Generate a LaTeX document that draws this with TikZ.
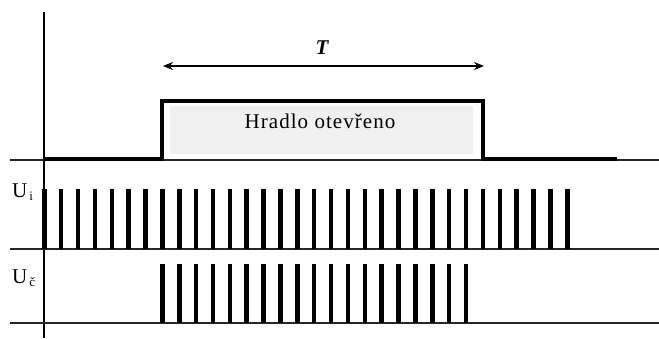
\documentclass[tikz,border=0pt]{standalone}
\usepackage{fontspec}
\setmainfont{Liberation Serif}
\usetikzlibrary{arrows.meta}
\tikzset{
  thin axis/.style={line width=1.3pt, black},
  base/.style={line width=1.6pt, black!85},
  gate/.style={line width=4.2pt, black, line join=miter},
  pulse/.style={line width=4.5pt, black},
  span/.style={line width=1.3pt, {Stealth[length=10pt,width=8pt]}-{Stealth[length=10pt,width=8pt]}},
  lbl/.style={inner sep=0pt, font=\fontsize{21}{21}\selectfont}
}
\newcommand{\subtxt}[1]{\raisebox{-3pt}{\fontsize{13}{13}\selectfont #1}}
\begin{document}
\begin{tikzpicture}[x=1pt,y=-1pt]
  \useasboundingbox (0,0) rectangle (659,338);

  % shaded interval while the gate is open
  \fill[black!6] (170,106) rectangle (473,154);
  \node[font=\fontsize{21}{21}\selectfont\addfontfeature{LetterSpace=5}, inner sep=0pt] (open) at (320,121) {Hradlo otevřeno};

  % time axis and the three baselines
  \draw[thin axis] (44,12) -- (44,338);
  \draw[base] (10,160) -- (659,160);
  \draw[base] (10,249) -- (659,249);
  \draw[base] (10,323) -- (659,323);

  % gate signal
  \draw[gate] (44,159) -- (162,159) -- (162,101) -- (483,101) -- (483,159) -- (617,159);

  % gate duration T
  \coordinate (tA) at (163,66);
  \coordinate (tB) at (484,66);
  \draw[span] (tA) -- (tB);
  \node[inner sep=0pt, font=\fontsize{21}{21}\selectfont\bfseries\itshape] (T) at (322,48) {T};

  % input pulses U_i
  \foreach \k in {0,...,31}
    \draw[pulse] ({44.3+\k*16.87},249) -- ({44.3+\k*16.87},189);

  % counted pulses U_c
  \foreach \k in {7,...,25}
    \draw[pulse] ({44.3+\k*16.87},323) -- ({44.3+\k*16.87},264);

  % signal labels
  \node[lbl, anchor=base west] (ui) at (12,197) {U\hspace{2pt}\subtxt{i}};
  \node[lbl, anchor=base west] (uc) at (12,283) {U\hspace{2pt}\subtxt{č}};
\end{tikzpicture}
\end{document}
